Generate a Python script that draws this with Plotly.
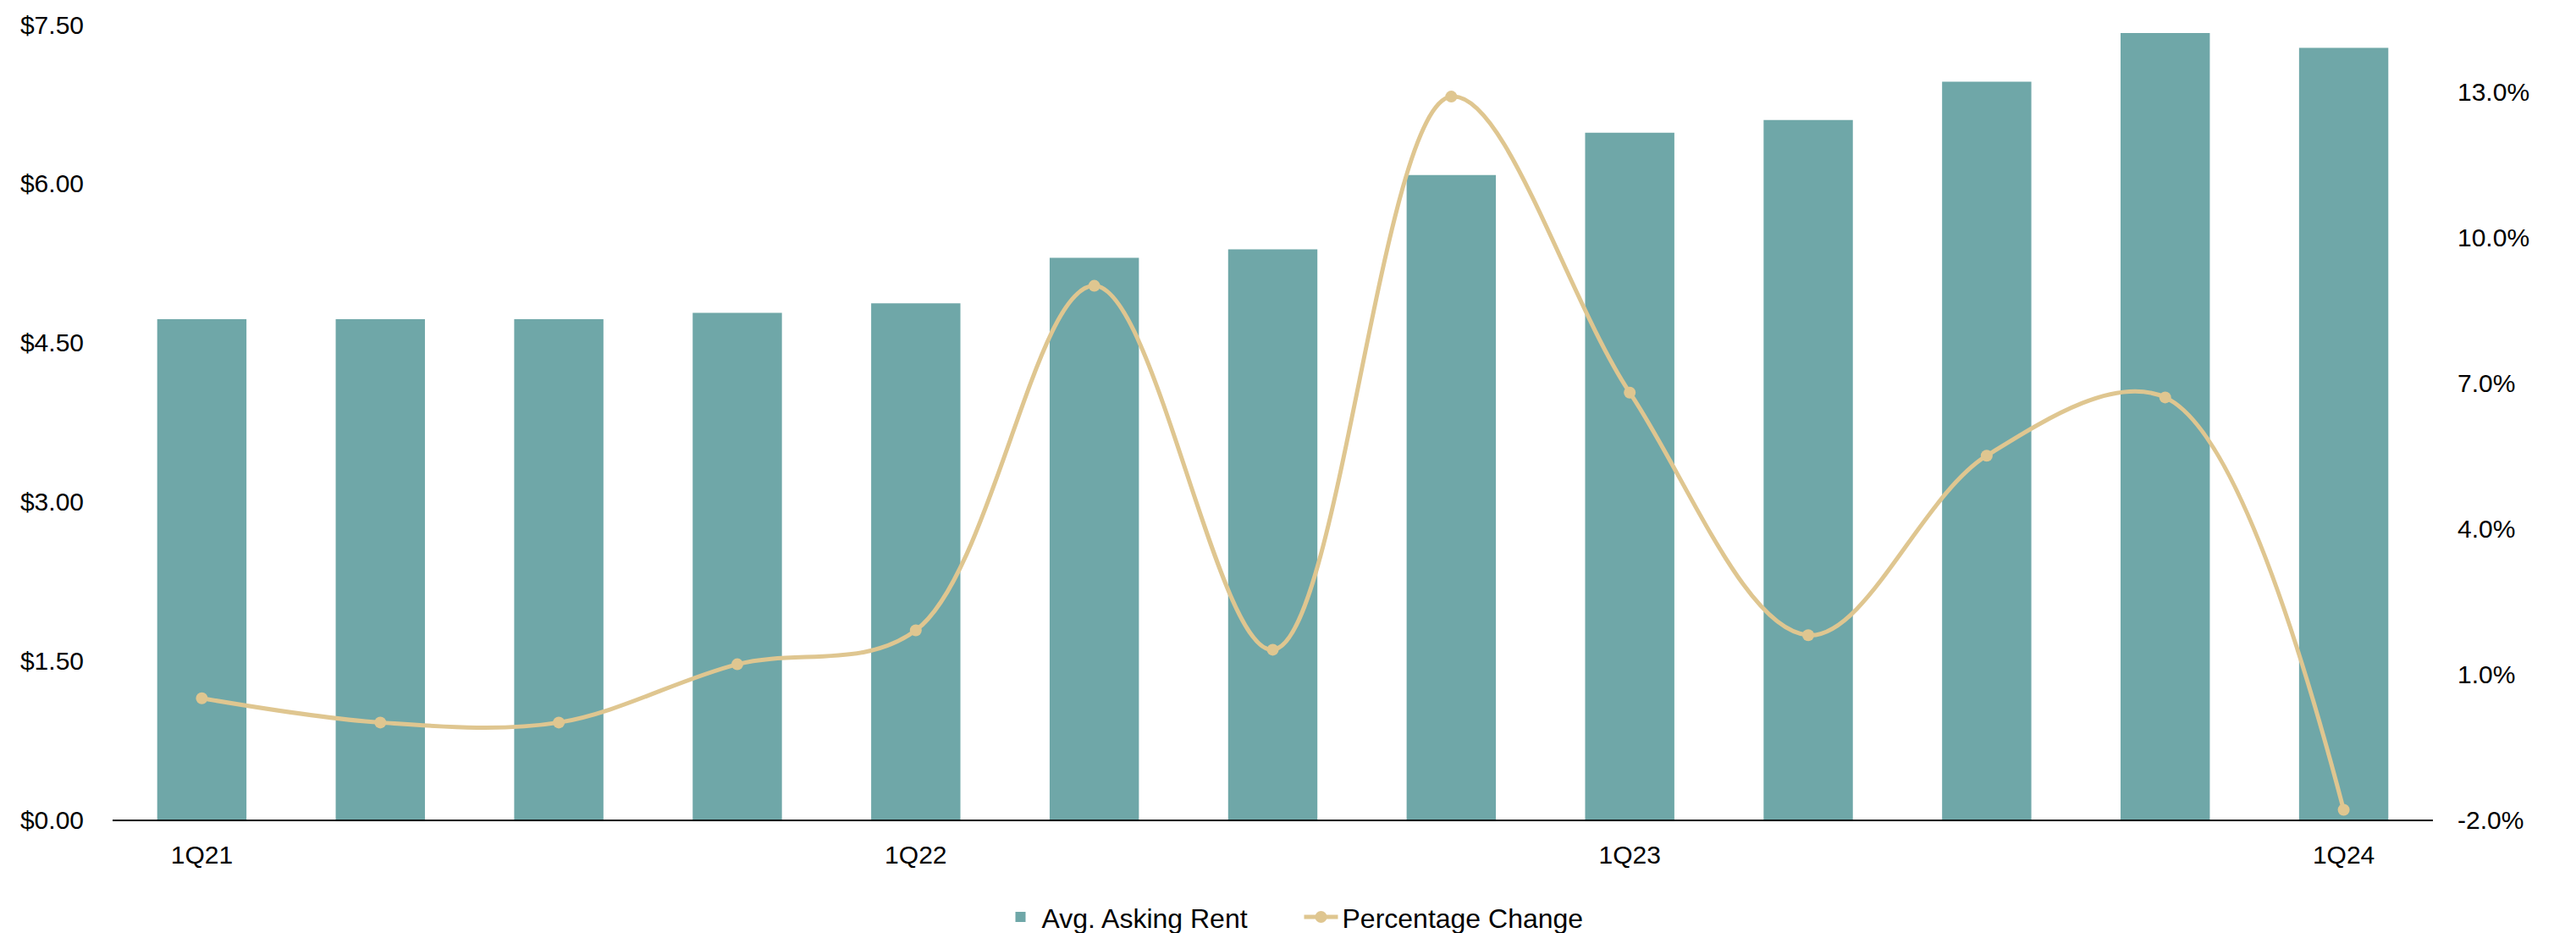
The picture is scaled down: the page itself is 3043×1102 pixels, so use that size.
import plotly.graph_objects as go

quarters = ["1Q21", "2Q21", "3Q21", "4Q21", "1Q22", "2Q22", "3Q22", "4Q22",
            "1Q23", "2Q23", "3Q23", "4Q23", "1Q24"]
avg_asking_rent = [4.72, 4.72, 4.72, 4.78, 4.87, 5.30, 5.38, 6.08, 6.48, 6.60, 6.96, 7.42, 7.28]
pct_change = [0.5, 0.0, 0.0, 1.2, 1.9, 9.0, 1.5, 12.9, 6.8, 1.8, 5.5, 6.7, -1.8]
x_tick_labels = ["1Q21", "1Q22", "1Q23", "1Q24"]
left_ticks = [0, 1.5, 3.0, 4.5, 6.0, 7.5]
right_ticks = [-2, 1, 4, 7, 10, 13]

BAR = "#6fa7a8"
LINE = "#dfc690"
FONT = "Liberation Sans, Arial, sans-serif"

fig = go.Figure()
fig.add_trace(go.Bar(
    x=quarters, y=avg_asking_rent, name="Avg. Asking Rent",
    marker=dict(color=BAR, line=dict(width=0)), yaxis="y",
))
fig.add_trace(go.Scatter(
    x=quarters, y=pct_change, name="Percentage Change", yaxis="y2",
    mode="lines+markers",
    line=dict(color=LINE, width=5, shape="spline", smoothing=1.0),
    marker=dict(color=LINE, size=14),
))

fig.update_layout(
    width=3043, height=1102,
    margin=dict(l=133, r=169, t=27, b=134),
    paper_bgcolor="white", plot_bgcolor="white",
    font=dict(family=FONT, size=30, color="#000000"),
    bargap=0.5,
    showlegend=True,
    legend=dict(
        orientation="h", xref="container", yref="container",
        x=0.5046, xanchor="center", y=0.017, yanchor="middle",
        font=dict(size=32), itemwidth=40, traceorder="normal",
        entrywidth=300,
    ),
    xaxis=dict(
        type="category", range=[-0.5, len(quarters) - 0.5],
        tickmode="array", tickvals=x_tick_labels, ticktext=x_tick_labels,
        showline=True, linecolor="#000000", linewidth=2,
        ticks="outside", ticklen=14, tickcolor="rgba(0,0,0,0)",
        showgrid=False, zeroline=False,
        tickfont=dict(size=30),
    ),
    yaxis=dict(
        range=[0, 7.5], tickmode="array", tickvals=left_ticks,
        ticktext=["$" + format(v, ".2f") for v in left_ticks],
        showgrid=False, zeroline=False, showline=False,
        ticks="outside", ticklen=27, tickcolor="rgba(0,0,0,0)",
        tickfont=dict(size=30),
    ),
    yaxis2=dict(
        range=[-2, 14.385], tickmode="array", tickvals=right_ticks,
        ticktext=[format(v, ".1f") + "%" for v in right_ticks],
        overlaying="y", side="right",
        showgrid=False, zeroline=False, showline=False,
        ticks="outside", ticklen=22, tickcolor="rgba(0,0,0,0)",
        tickfont=dict(size=30),
    ),
)

fig.write_html("out.html")
